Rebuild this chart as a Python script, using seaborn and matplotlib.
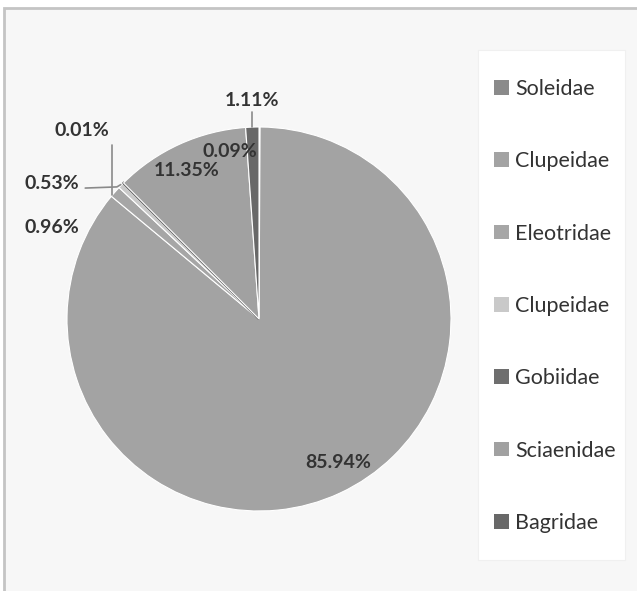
import matplotlib
matplotlib.use('Agg')
import matplotlib.pyplot as plt
from matplotlib.patches import Rectangle
import seaborn as sns

# Fish families (legend order) and share of catch (%)
families = ['Soleidae', 'Clupeidae', 'Eleotridae', 'Clupeidae', 'Gobiidae', 'Sciaenidae', 'Bagridae']
shares = [0.09, 85.94, 0.96, 0.53, 0.01, 11.35, 1.11]
slice_colors = ['#8a8a8a', '#a3a3a3', '#a6a6a6', '#c9c9c9', '#6e6e6e', '#a1a1a1', '#686868']
label_text = [f'{v:.2f}%' for v in shares]

# label placement in pie-radius units (Excel "best fit" layout)
label_pos = [(-0.15, 0.87), (0.41, -0.745), (-1.08, 0.474), (-1.08, 0.708),
             (-0.92, 0.984), (-0.375, 0.776), (-0.036, 1.14)]
leaders = {4: [(-0.768, 0.906), (-0.768, 0.645)],
           3: [(-0.905, 0.682), (-0.74, 0.688), (-0.72, 0.70)],
           6: [(-0.036, 1.078), (-0.036, 0.998)]}

sns.set_style('white')
plt.rcParams['font.family'] = ['Lato', 'DejaVu Sans']

W, H, DPI = 637, 591, 100
fig = plt.figure(figsize=(W / DPI, H / DPI), dpi=DPI, facecolor='white')

# chart area background
fig.patches.append(Rectangle((4 / W, -0.05), 1.0, 1.05 - 8 / H, transform=fig.transFigure,
                             facecolor='#f7f7f7', edgecolor='#c4c4c4', linewidth=2.0, zorder=0))
# legend panel
fig.patches.append(Rectangle((478 / W, 1 - 560 / H), 147 / W, 510 / H, transform=fig.transFigure,
                             facecolor='white', edgecolor='#f0f0f0', linewidth=0.8, zorder=0.5))

ax = fig.add_axes([0, 0, 1, 1])
ax.set_zorder(2)
ax.set_facecolor('none')
cx, cy, r = 259, 319, 192

wedges, _ = ax.pie(shares, colors=slice_colors, startangle=90, counterclock=False,
                   radius=1.0, wedgeprops=dict(edgecolor='white', linewidth=0.8))
wedges[4].set_edgecolor(slice_colors[4])
wedges[4].set_linewidth(1.6)

ax.set_xlim(-cx / r, (W - cx) / r)
ax.set_ylim((cy - H) / r, cy / r)
ax.set_aspect('auto')
ax.axis('off')

for txt, (x, y) in zip(label_text, label_pos):
    ax.text(x, y, txt, ha='center', va='center', fontsize=14, fontweight='bold',
            color='#333333', clip_on=False)
for pts in leaders.values():
    xs, ys = zip(*pts)
    ax.plot(xs, ys, color='#8a8a8a', linewidth=1.2)

leg = fig.legend(wedges, families, loc='upper left', bbox_to_anchor=(494 / W, 1 - 79 / H),
                 frameon=False, fontsize=15.5, labelspacing=2.43, handlelength=0.68,
                 handleheight=0.68, handletextpad=0.3, borderpad=0, borderaxespad=0)
leg.set_zorder(3)
for t in leg.get_texts():
    t.set_color('#333333')
for h in leg.legend_handles:
    h.set_edgecolor('none')

fig.savefig('out.png', dpi=DPI, facecolor='white')
